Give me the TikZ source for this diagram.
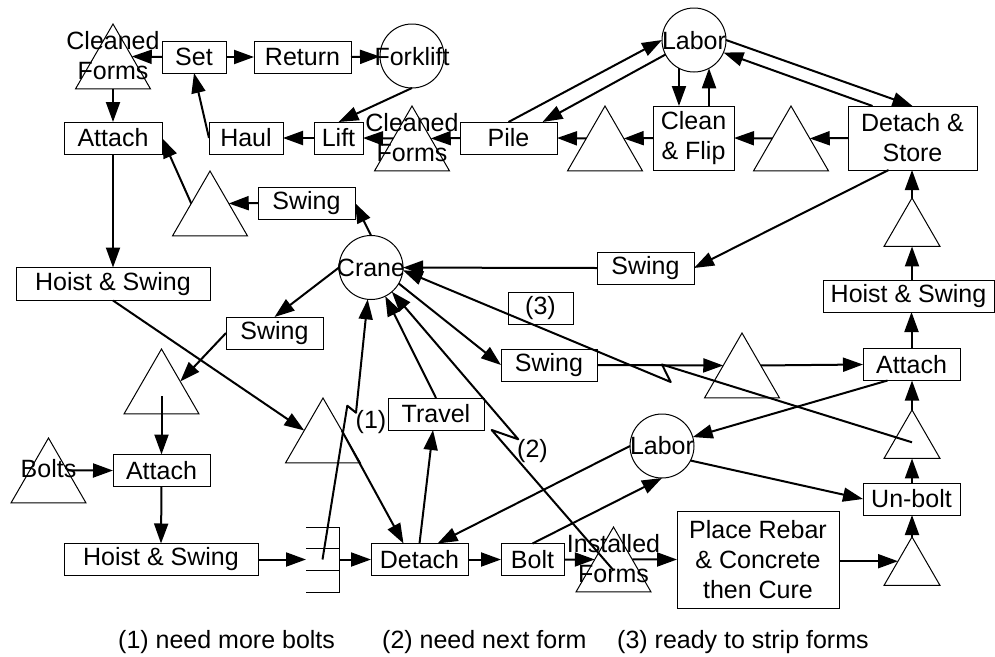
\documentclass[tikz,border=0pt]{standalone}
\usepackage{fontspec}
\setmainfont{Liberation Sans}
\usetikzlibrary{arrows.meta,shapes.geometric,calc}
\tikzset{
  box/.style={draw, line width=1pt, inner sep=0pt, outer sep=0pt, minimum height=32pt, align=center},
  circ/.style={draw, circle, line width=1pt, minimum size=64pt, inner sep=0pt, outer sep=0pt},
  tri/.style={draw, regular polygon, regular polygon sides=3, line width=1pt, minimum size=86.6pt, inner sep=0pt, outer sep=0pt},
  stri/.style={tri, minimum size=64.7pt},
  txt/.style={inner sep=0pt, align=center},
  arr/.style={line width=2pt, line join=round, -{Triangle[length=20pt,width=14pt]}},
}
\begin{document}
\begin{tikzpicture}[x=1pt,y=-1pt,font=\fontsize{25pt}{30pt}\selectfont]
\useasboundingbox (0,0) rectangle (995,656);

% triangles (queues)
\node[tri] (tCF1) at (113,67.3) {};
\node[tri] (tCF2) at (412,149.3) {};
\node[tri] (t3) at (605,149.3) {};
\node[tri] (t4) at (791,149.3) {};
\node[tri] (t5) at (210,214.3) {};
\node[stri] (t6) at (912,230.3) {};
\node[tri] (t7) at (742,376.3) {};
\node[stri] (t8) at (912,442.3) {};
\node[tri] (t9) at (161.5,392.3) {};
\node[tri] (t10) at (323,441.3) {};
\node[tri] (tBolts) at (48.5,481.3) {};
\node[tri] (tIF) at (613.5,570.3) {};
\node[stri] (t11) at (912,569.3) {};

% texts in triangles
\node[txt] (lCF1) at (113,56) {Cleaned\\Forms};
\node[txt] (lCF2) at (412,137.5) {Cleaned\\Forms};
\node[txt] (lBolts) at (48.5,469) {Bolts};
\node[txt] (lIF) at (613.5,558.5) {Installed\\Forms};

% circles (resources)
\node[circ] (fork) at (412,56) {};
\node[circ] (labor1) at (694,40) {};
\node[circ] (crane) at (371,267.5) {};
\node[circ] (labor2) at (662,446) {};
\node[txt] (lfork) at (412,57) {Forklift};
\node[txt] (llabor1) at (694,41) {Labor};
\node[txt] (lcrane) at (371,268) {Crane};
\node[txt] (llabor2) at (662,446) {Labor};

% boxes (activities)
\node[box, minimum width=64pt] (set) at (194,57) {Set};
\node[box, minimum width=97pt] (ret) at (302.5,57) {Return};
\node[box, minimum width=98pt] (att1) at (113,138) {Attach};
\node[box, minimum width=74pt] (haul) at (246,138) {Haul};
\node[box, minimum width=49pt] (lift) at (338.5,138) {Lift};
\node[box, minimum width=97pt] (pile) at (508.5,138) {Pile};
\node[box, minimum width=81pt, minimum height=64pt] (cf) at (693.5,138) {Clean\\\& Flip};
\node[box, minimum width=129pt, minimum height=64pt] (ds) at (912.5,138) {Detach \&\\Store};
\node[box, minimum width=97pt] (swing1) at (306.5,203) {Swing};
\node[box, minimum width=97pt] (swing2) at (645.5,268) {Swing};
\node[box, minimum width=194pt, minimum height=33pt] (hs1) at (113,284) {Hoist \& Swing};
\node[box, minimum width=171pt] (hs2) at (908.5,296) {Hoist \& Swing};
\node[box, minimum width=97pt] (swing3) at (274.5,333) {Swing};
\node[box, minimum width=65pt] (box3) at (540.5,308) {(3)};
\node[box, minimum width=96pt] (swing4) at (549,365) {Swing};
\node[box, minimum width=97pt] (att2) at (911.5,364.5) {Attach};
\node[box, minimum width=96pt] (travel) at (436,414) {Travel};
\node[box, minimum width=97pt] (unbolt) at (911.5,499) {Un-bolt};
\node[box, minimum width=97pt] (att3) at (161.5,470.5) {Attach};
\node[box, minimum width=194pt] (hs3) at (161,559.5) {Hoist \& Swing};
\node[box, minimum width=97pt] (detach) at (419.5,559.5) {Detach};
\node[box, minimum width=63pt] (bolt) at (532.5,559.5) {Bolt};
\node[box, minimum width=162pt, minimum height=97pt] (rebar) at (758,559.5) {Place Rebar\\\& Concrete\\then Cure};

% consolidate function
\node[inner sep=0pt, outer sep=0pt, minimum width=33pt, minimum height=65pt] (cons) at (322.5,559.5) {};
\draw[line width=1pt] (cons.north west) -- (cons.north east) -- (cons.south east) -- (cons.south west);
\draw[line width=1pt] ($(cons.north west)!1/3!(cons.south west)$) -- ($(cons.north east)!1/3!(cons.south east)$);
\draw[line width=1pt] ($(cons.north west)!2/3!(cons.south west)$) -- ($(cons.north east)!2/3!(cons.south east)$);

% zigzag coordinates
\coordinate (z1a) at (347.3,405.7);
\coordinate (z1b) at (356,412.7);
\coordinate (z2a) at (491.7,430);
\coordinate (z2b) at (518.3,439.3);
\coordinate (z3a) at (662,364.5);
\coordinate (z3b) at (670.7,382);

% labels
\node[txt] (l1) at (371,422.5) {(1)};
\node[txt] (l2) at (532.5,451) {(2)};
\node[txt, anchor=base west] (n1) at (118,648) {(1) need more bolts};
\node[txt, anchor=base west] (n2) at (382,648) {(2) need next form};
\node[txt, anchor=base west] (n3) at (617,648) {(3) ready to strip forms};

% top row connectors
\draw[arr] (set.west) -- (tCF1.side 3);
\draw[arr] (set.east) -- (ret.west);
\draw[arr] (ret.east) -- (fork);
\draw[arr] (fork.south) -- (lift.north);
\draw[arr] (tCF2.side 1) -- (lift.east);
\draw[arr] (pile.west) -- (tCF2.side 3);
\draw[arr] (lift.west) -- (haul.east);
\draw[arr] (haul.west) -- (set.south);
\draw[arr] (tCF1.side 2) -- (att1.north);
\draw[arr] (att1.south) -- (hs1.north);
\draw[arr] (t5.side 1) -- (att1.east);
\draw[arr] (swing1.west) -- (t5.side 3);
\draw[arr] (crane.north) -- (swing1.east);

% labor (top)
\draw[arr] (pile.north) -- (labor1.west);
\draw[arr] (labor1.207) -- ([xshift=34pt]pile.north);
\draw[arr] (labor1.242) -- (labor1.242 |- cf.north);
\draw[arr] (labor1.298 |- cf.north) -- (labor1.298);
\draw[arr] (labor1.east) -- (ds.north);
\draw[arr] ([xshift=-40pt]ds.north) -- (labor1.337);
\draw[arr] (ds.west) -- (t4.side 3);
\draw[arr] (t4.side 1) -- (cf.east);
\draw[arr] (cf.west) -- (t3.side 3);
\draw[arr] (t3.side 1) -- (pile.east);

% right column
\draw[arr] ([xshift=-24pt]ds.south) -- (swing2.east);
\draw[arr] (swing2.west) -- (crane);
\draw[arr] (t6.corner 1) -- (t6.corner 1 |- ds.south);
\draw[arr] (t6.side 2 |- hs2.north) -- (t6.side 2);
\draw[arr] (att2.north) -- (att2.north |- hs2.south);
\draw[arr] (t8.corner 1) -- (t8.corner 1 |- att2.south);
\draw[arr] (t8.side 2 |- unbolt.north) -- (t8.side 2);
\draw[arr] (t11.corner 1) -- (t11.corner 1 |- unbolt.south);
\draw[arr] (t11.side 1 -| rebar.east) -- (t11.side 1);

% bottom row
\draw[arr] (tIF.side 3) -- (rebar.west);
\draw[arr] (bolt.east) -- (tIF.side 1);
\draw[arr] (detach.east) -- (bolt.west);
\draw[arr] (cons.east) -- (detach.west);
\draw[arr] (hs3.east) -- (cons.west);
\draw[arr] (att3.south) -- (hs3.north);
\draw[arr] (tBolts.side 3) -- (att3.west);
\draw[arr] ([yshift=-4pt]t9.center) -- (att3.north);
\draw[arr] (swing3.west) -- (t9.side 3);
\draw[arr] (crane.west) -- (swing3.north);
\draw[arr] (hs1.south) -- (t10.side 1);
\draw[arr] (t10.side 3) -- ([xshift=-16pt]detach.north);
\draw[arr] (detach.north) -- ([xshift=-3pt]travel.south);
\draw[arr] (travel.north) -- (crane);

% middle
\draw[arr] (crane.330) -- (swing4.west);
\draw[arr] (swing4.east) -- (t7.side 1);
\draw[arr] (t7.side 3) -- (att2.west);
\draw[arr] ([xshift=-24pt]att2.south) -- (labor2);
\draw[arr] (labor2.west) -- ([xshift=18pt]detach.north);
\draw[arr] (bolt.north) -- (labor2.south);
\draw[arr] (labor2.333) -- (unbolt.west);

% probabilistic branches
\draw[arr] (cons.center) -- (z1a) -- (z1b) -- (crane);
\draw[arr] (tIF.center) -- (z2a) -- (z2b) -- (crane);
\draw[arr] (t8.center) -- (z3a) -- (z3b) -- (crane.355);
\end{tikzpicture}
\end{document}
